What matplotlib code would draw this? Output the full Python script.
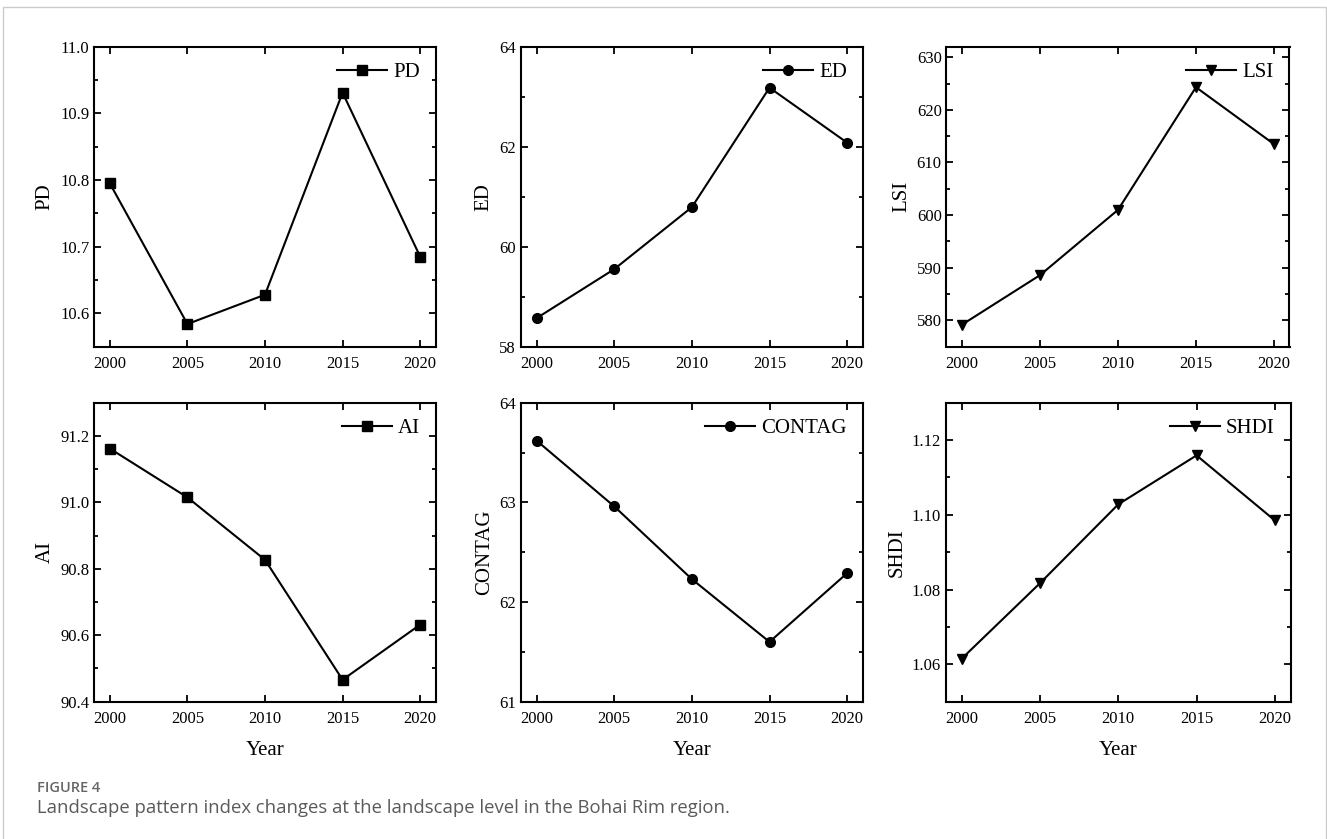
import matplotlib
matplotlib.use("Agg")
import matplotlib.pyplot as plt
from matplotlib.patches import Rectangle
from matplotlib.ticker import MultipleLocator, FormatStrFormatter

years = [2000, 2005, 2010, 2015, 2020]
pd_vals = [10.795, 10.584, 10.628, 10.931, 10.685]
ed_vals = [58.57, 59.55, 60.79, 63.18, 62.08]
lsi_vals = [579.2, 588.6, 601.0, 624.3, 613.5]
ai_vals = [91.162, 91.015, 90.827, 90.466, 90.632]
contag_vals = [63.62, 62.96, 62.23, 61.60, 62.29]
shdi_vals = [1.0615, 1.0817, 1.1028, 1.1159, 1.0985]
names = ["PD", "ED", "LSI", "AI", "CONTAG", "SHDI"]
series = [pd_vals, ed_vals, lsi_vals, ai_vals, contag_vals, shdi_vals]
markers = ["s", "o", "v", "s", "o", "v"]
ylims = [(10.55, 11.0), (58, 64), (575, 632), (90.4, 91.3), (61, 64), (1.05, 1.13)]
majors = [0.1, 2, 10, 0.2, 1, 0.02]
minors = [0.05, 1, 5, 0.1, 0.5, 0.01]
fmts = ["%.1f", "%d", "%d", "%.1f", "%d", "%.2f"]

plt.rcParams['font.family'] = ['Liberation Serif', 'DejaVu Serif']

W, H = 1327, 839
fig = plt.figure(figsize=(W / 100, H / 100), dpi=100)
fig.patch.set_facecolor("white")

# axes boxes in pixels: left, top, width, height
boxes = [
    (94.3, 46.7, 341.4, 300.0),
    (521.0, 46.7, 341.7, 300.0),
    (946.5, 46.7, 343.0, 300.0),
    (94.3, 402.7, 341.4, 299.0),
    (521.0, 402.7, 341.7, 299.0),
    (946.0, 402.7, 344.5, 299.0),
]

for i, (name, vals, mk) in enumerate(zip(names, series, markers)):
    l, t, w, h = boxes[i]
    ax = fig.add_axes([l / W, 1 - (t + h) / H, w / W, h / H])
    ax.plot(years, vals, color="black", lw=1.5, marker=mk, ms=6.5 if mk == "s" else 7,
            label=name)
    ax.set_xlim(1999, 2021)
    ax.set_ylim(*ylims[i])
    ax.set_xticks(years)
    ax.yaxis.set_major_locator(MultipleLocator(majors[i]))
    ax.yaxis.set_minor_locator(MultipleLocator(minors[i]))
    ax.yaxis.set_major_formatter(FormatStrFormatter(fmts[i]))
    ax.tick_params(which="both", direction="in", top=True, right=True,
                   labelsize=12, width=1.3)
    ax.tick_params(which="major", length=5)
    ax.tick_params(which="minor", length=3)
    ax.tick_params(axis="x", pad=7)
    for s in ax.spines.values():
        s.set_linewidth(1.5)
    ax.set_ylabel(name, fontsize=15, labelpad=4)
    if i >= 3:
        ax.set_xlabel("Year", fontsize=15, labelpad=10)
    ax.legend(loc="upper right", frameon=False, fontsize=15, handlelength=2.4,
              handletextpad=0.3, borderaxespad=0.35)

# frame around the figure panel
fig.add_artist(Rectangle((3.5 / W, -0.01), (1326 - 3.5) / W, 1 - 7 / H + 0.01,
                         transform=fig.transFigure, fill=False,
                         edgecolor="#cccccc", lw=1.0))

fig.text(37 / W, 1 - 788 / H, "FIGURE 4", fontsize=10.5, color="#666666",
         family="Open Sans", weight="semibold", va="center", ha="left")
fig.text(37 / W, 1 - 808 / H,
         "Landscape pattern index changes at the landscape level in the Bohai Rim region.",
         fontsize=13.3, color="#5a5a5a", family="Open Sans", va="center", ha="left")

fig.savefig("out.png", dpi=100)
